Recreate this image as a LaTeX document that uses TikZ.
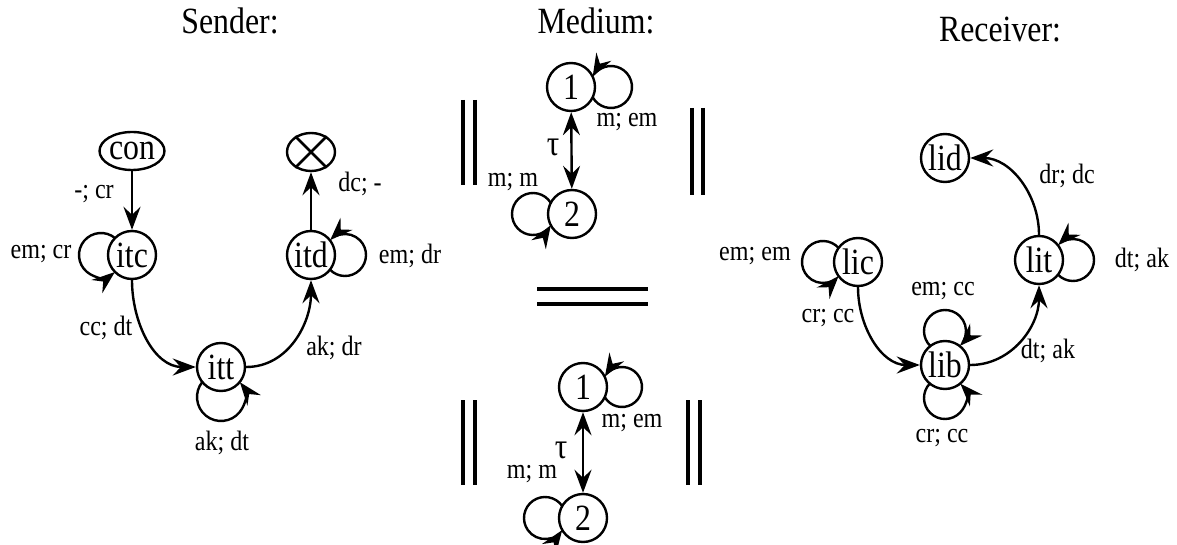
\documentclass[tikz,border=0pt]{standalone}
\usepackage{fontspec}
\setmainfont{Liberation Serif}
\newfontfamily\tallfont[FakeStretch=0.86]{Liberation Serif}
\usetikzlibrary{arrows.meta,shapes.geometric}

\begin{document}
\begin{tikzpicture}[x=1pt,y=1pt,
 s/.style={circle,draw,line width=2.4pt,fill=white,minimum size=48pt,inner sep=0pt,font=\tallfont\fontsize{37}{38}\selectfont},
 e/.style={ellipse,draw,line width=2.4pt,fill=white,minimum width=48pt,minimum height=38pt,inner sep=0pt,font=\tallfont\fontsize{37}{38}\selectfont},
 a/.style={-{Stealth[length=23pt 0 0,width=17pt 0 0,inset=8pt]},line width=2.4pt},
 aa/.style={{Stealth[length=23pt 0 0,width=17pt 0 0,inset=8pt]}-{Stealth[length=23pt 0 0,width=17pt 0 0,inset=8pt]},line width=2.4pt},
 l/.style={font=\tallfont\fontsize{28}{29}\selectfont},
 h/.style={font=\tallfont\fontsize{37}{38}\selectfont},
 bar/.style={line width=3.4pt}]
 \useasboundingbox (0,0) rectangle (1177,544);
 \node[h] (sender) at (230,523) {Sender:};
 \node[h] (medium) at (596,523) {Medium:};
 \node[h] (receiver) at (1000,514) {Receiver:};
 % sender
 \node[e] (con) at (132,393) {con};
 \node[e] (stop) at (311,392) {};
 \draw[line width=2.8pt] (stop.45) -- (stop.225) (stop.135) -- (stop.315);
 \node[s] (itc) at (132,289) {itc};
 \node[s] (itd) at (311,289) {itd};
 \node[s] (itt) at (221,177) {itt};
 \draw[a] (con) -- (itc);
 \draw[a] (itc.south) to[out=-90,in=180] (itt.west);
 \draw[a] (itt.east) to[out=0,in=-90] (itd.south);
 \draw[a] (itd) -- (stop);
 \draw[a] ([shift={(180:31)}]itc.center) ++(50:22) arc[start angle=50,delta angle=259,radius=22];
 \draw[a] ([shift={(0:34)}]itd.center) ++(224:21) arc[start angle=224,delta angle=271,radius=21];
 \draw[a] ([shift={(270:30)}]itt.center) ++(141:24) arc[start angle=141,delta angle=257,radius=24];
 \node[l] (l1) at (94,350) {-; cr};
 \node[l] (l2) at (41,290) {em; cr};
 \node[l] (l3) at (106,216) {cc; dt};
 \node[l] (l4) at (334,196) {ak; dr};
 \node[l] (l5) at (410,288) {em; dr};
 \node[l] (l6) at (360,360) {dc; -};
 \node[l] (l7) at (222,101) {ak; dt};
 % medium, before and after
 \node[s] (one) at (571,457) {1};
 \node[s] (two) at (572,330) {2};
 \node[s] (onb) at (583,157) {1};
 \node[s] (twb) at (583,26) {2};
 \draw[aa] (one) -- (two);
 \draw[aa] (onb) -- (twb);
 \draw[a] ([shift={(0:40)}]one.center) ++(209:21) arc[start angle=209,delta angle=302,radius=21];
 \draw[a] ([shift={(180:39)}]two.center) ++(32:21) arc[start angle=32,delta angle=296,radius=21];
 \draw[a] ([shift={(0:39)}]onb.center) ++(210:20) arc[start angle=210,delta angle=299,radius=20];
 \draw[a] ([shift={(180:38)}]twb.center) ++(35:21) arc[start angle=35,delta angle=290,radius=21];
 \node[font=\tallfont\fontsize{36}{38}\selectfont] (tau) at (553,397) {τ};
 \node[font=\tallfont\fontsize{36}{38}\selectfont] (taub) at (561,94) {τ};
 \node[l] (m1) at (627,422) {m; em};
 \node[l] (m2) at (513,362) {m; m};
 \node[l] (m3) at (632,121) {m; em};
 \node[l] (m4) at (532,70) {m; m};
 \draw[bar] (463,444) -- (463,359) (475,444) -- (475,359);
 \draw[bar] (692,436) -- (692,349) (703,436) -- (703,349);
 \draw[bar] (537,255) -- (648,255) (537,240) -- (648,240);
 \draw[bar] (463,144) -- (463,59) (475,144) -- (475,59);
 \draw[bar] (688,144) -- (688,59) (700,144) -- (700,59);
 % receiver
 \node[s] (lid) at (945,386) {lid};
 \node[s] (lit) at (1039,284) {lit};
 \node[s] (lic) at (858,282) {lic};
 \node[s] (lib) at (945,179) {lib};
 \draw[a] (lic.south) to[out=-90,in=180] (lib.west);
 \draw[a] (lib.east) to[out=0,in=-90] (lit.south);
 \draw[a] (lit.north) to[out=90,in=0] (lid.east);
 \draw[a] ([shift={(180:35)}]lic.center) ++(42:21) arc[start angle=42,delta angle=276,radius=21];
 \draw[a] ([shift={(0:34)}]lit.center) ++(224:21) arc[start angle=224,delta angle=271,radius=21];
 \draw[a] ([shift={(90:34)}]lib.center) ++(226:21) arc[start angle=226,delta angle=-271,radius=21];
 \draw[a] ([shift={(270:33)}]lib.center) ++(136:21) arc[start angle=136,delta angle=267,radius=21];
 \node[l] (r1) at (1067,368) {dr; dc};
 \node[l] (r2) at (1142,284) {dt; ak};
 \node[l] (r3) at (755,288) {em; em};
 \node[l] (r4) at (943,253) {em; cc};
 \node[l] (r5) at (828,226) {cr; cc};
 \node[l] (r6) at (1048,193) {dt; ak};
 \node[l] (r7) at (942,106) {cr; cc};
\end{tikzpicture}
\end{document}
